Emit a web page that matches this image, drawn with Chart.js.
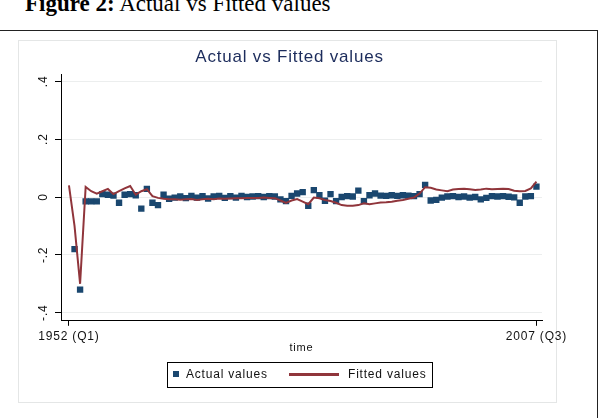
<!DOCTYPE html>
<html>
<head>
<meta charset="utf-8">
<script src="https://cdn.jsdelivr.net/npm/chart.js@4.4.1/dist/chart.umd.min.js"></script>
<style>
  html, body { margin: 0; padding: 0; background: #fff; }
  #page { position: relative; width: 599px; height: 418px; overflow: hidden; }
  #caption {
    position: absolute; left: 25px; top: -8px;
    font-family: "Liberation Serif", "DejaVu Serif", serif;
    font-size: 23px; line-height: 23px; white-space: nowrap; color: #000;
  }
  #frame {
    position: absolute; left: -3px; top: 30px; width: 601px; height: 420px;
    box-sizing: border-box; border: 1.5px solid #222;
  }
  #panel {
    position: absolute; left: 18px; top: 40px; width: 539px; height: 363px;
    box-sizing: border-box; border: 1px solid #e4e6e6; background: #fff;
  }
  #chart { position: absolute; left: 0; top: 0; }
  #legend {
    position: absolute; left: 167px; top: 362px; width: 266px; height: 26px;
    box-sizing: border-box; border: 1.5px solid #000;
    font-family: "Liberation Sans", Arial, sans-serif; font-size: 12px;
    letter-spacing: 0.8px; color: #111;
  }
  #legend span { position: absolute; line-height: 12px; white-space: nowrap; }
  #legend .sq { left: 5px; top: 8px; width: 6px; height: 6px; background: #1a476f; }
  #legend .ln { left: 121px; top: 10px; width: 50px; height: 2.5px; background: #90353b; }
</style>
</head>
<body>
<div id="page">
  <div id="caption"><b>Figure 2:</b> Actual vs Fitted values</div>
  <div id="frame"></div>
  <div id="panel"></div>
  <canvas id="chart" width="599" height="418"></canvas>
  <div id="legend">
    <span class="sq"></span><span style="left:18px; top:5px">Actual values</span>
    <span class="ln"></span><span style="left:180px; top:5px">Fitted values</span>
  </div>
</div>
<script>
'use strict';

const actualValues = [
  null, -0.18, -0.32, -0.015, -0.015, -0.015, 0.01, 0.008, 0.005, -0.02,
  0.008, 0.01, 0.006, -0.04, 0.028, -0.02, -0.028, 0.008, -0.006, -0.002,
  0.002, -0.004, 0.004, -0.002, 0.003, -0.005, 0.002, 0.004, -0.003, 0.003,
  -0.002, 0.004, 0.0, 0.002, 0.003, 0.0, 0.003, 0.002, -0.008, -0.014,
  0.004, 0.012, 0.017, -0.03, 0.024, 0.006, -0.013, 0.01, -0.014, 0.0,
  0.003, 0.002, 0.022, -0.014, 0.006, 0.012, 0.005, 0.004, 0.006, 0.004,
  0.006, 0.005, 0.003, 0.01, 0.042, -0.012, -0.01, -0.002, 0.002, 0.003,
  0.0, 0.002, -0.002, 0.0, -0.008, -0.003, 0.003, 0.002, 0.003, 0.001,
  -0.001, -0.02, 0.002, 0.003, 0.036
];
const fittedValues = [
  0.04, -0.10, -0.30, 0.035, 0.02, 0.012, 0.02, 0.028, 0.01, 0.02,
  0.03, 0.038, 0.008, 0.02, 0.027, 0.003, -0.003, -0.006, -0.008, -0.008,
  -0.009, -0.008, -0.007, -0.01, -0.008, -0.006, -0.008, -0.005, -0.006, -0.005,
  -0.004, -0.004, -0.003, -0.003, -0.003, -0.002, -0.003, -0.004, -0.012, -0.02,
  -0.012, -0.007, -0.016, -0.025, -0.002, -0.004, -0.01, -0.014, -0.02, -0.028,
  -0.03, -0.03, -0.028, -0.022, -0.025, -0.022, -0.019, -0.018, -0.016, -0.013,
  -0.01, -0.006, -0.002, 0.012, 0.034, 0.032, 0.026, 0.023, 0.02, 0.026,
  0.028, 0.029, 0.027, 0.024, 0.026, 0.029, 0.027, 0.028, 0.029, 0.028,
  0.022, 0.02, 0.021, 0.03, 0.053
];
const xTickPositions = [0, 84];
const xTickLabels = ['1952 (Q1)', '2007 (Q3)'];
const yTickValues = [-0.4, -0.2, 0, 0.2, 0.4];
const yTickLabels = ['-.4', '-.2', '0', '.2', '.4'];

const toPoints = arr => arr
  .map((v, i) => ({x: i, y: v}))
  .filter(p => p.y !== null);

// Stata draws its text a bit wider than the canvas does
const spacing = {
  id: 'spacing',
  beforeUpdate(chart) { chart.ctx.letterSpacing = '0.8px'; }
};

const axisFont = {family: '"Liberation Sans", Arial, sans-serif', size: 12, lineHeight: 1};

new Chart(document.getElementById('chart'), {
  type: 'line',
  data: {
    datasets: [{
      label: 'Fitted values',
      data: toPoints(fittedValues),
      borderColor: '#90353b',
      borderWidth: 2,
      pointRadius: 0,
      tension: 0,
      order: 0
    }, {
      label: 'Actual values',
      data: toPoints(actualValues),
      showLine: false,
      pointStyle: 'rect',
      pointRadius: 4.5,
      pointBackgroundColor: '#1a476f',
      pointBorderWidth: 0,
      order: 1
    }]
  },
  options: {
    responsive: false,
    animation: false,
    layout: {padding: {left: 37, right: 57, top: 47, bottom: 63}},
    plugins: {
      legend: {display: false},
      tooltip: {enabled: false},
      title: {
        display: true,
        text: 'Actual vs Fitted values',
        color: '#1c2c5c',
        font: {family: '"Liberation Sans", Arial, sans-serif', size: 17, weight: 'normal'},
        padding: {top: 0, bottom: 7}
      }
    },
    scales: {
      x: {
        type: 'linear',
        min: -1.43,
        max: 85,
        afterBuildTicks: axis => { axis.ticks = xTickPositions.map(v => ({value: v})); },
        ticks: {
          color: '#111',
          font: axisFont,
          padding: 5,
          maxRotation: 0,
          autoSkip: false,
          callback: v => xTickLabels[xTickPositions.indexOf(v)]
        },
        grid: {drawOnChartArea: false, tickColor: '#000', tickLength: 5},
        border: {color: '#000', width: 1},
        title: {
          display: true,
          text: 'time',
          color: '#111',
          font: {family: '"Liberation Sans", Arial, sans-serif', size: 11},
          padding: {top: -6, bottom: 0}
        }
      },
      y: {
        min: -0.428,
        max: 0.424,
        afterBuildTicks: axis => { axis.ticks = yTickValues.map(v => ({value: v})); },
        ticks: {
          color: '#111',
          font: axisFont,
          padding: 3,
          minRotation: 90,
          maxRotation: 90,
          crossAlign: 'center',
          callback: v => yTickLabels[yTickValues.indexOf(v)]
        },
        grid: {color: '#eceeee', tickColor: '#000', tickLength: 6},
        border: {color: '#000', width: 1}
      }
    }
  },
  plugins: [spacing]
});
</script>
</body>
</html>
